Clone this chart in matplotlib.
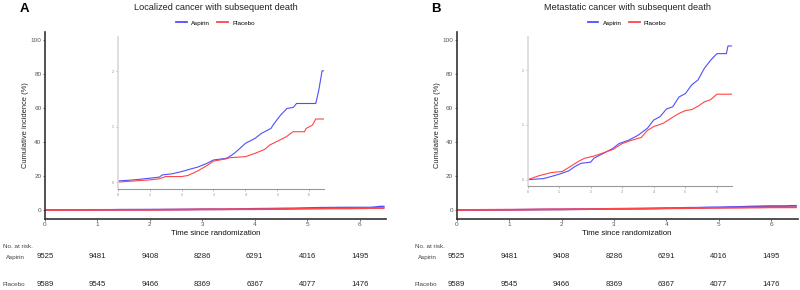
import matplotlib
matplotlib.use('Agg')
import matplotlib.pyplot as plt
from matplotlib.transforms import blended_transform_factory

plt.rcParams['font.family'] = ['Liberation Sans', 'DejaVu Sans']

# Dados (incidência cumulativa em %)
a_asp_t = [0, 0.5, 1.0, 1.3, 1.4, 1.7, 2.0, 2.3, 2.5, 2.8, 3.0, 3.4, 3.5, 3.65, 3.77, 4.0,
           4.3, 4.5, 4.8, 4.9, 5.1, 5.3, 5.5, 5.6, 6.2, 6.25, 6.3, 6.4, 6.46]
a_asp_y = [0.02, 0.04, 0.07, 0.09, 0.13, 0.15, 0.19, 0.24, 0.27, 0.34, 0.40, 0.43, 0.46, 0.52,
           0.58, 0.70, 0.79, 0.88, 0.97, 1.06, 1.21, 1.33, 1.35, 1.42, 1.42, 1.54, 1.67, 2.01, 2.01]
a_pla_t = [0, 0.5, 1.0, 1.3, 1.5, 2.0, 2.2, 2.5, 2.8, 3.0, 3.4, 3.5, 4.0, 4.3, 4.6, 4.76,
           4.97, 5.28, 5.49, 5.85, 5.9, 6.1, 6.2, 6.46]
a_pla_y = [0.0, 0.02, 0.04, 0.06, 0.10, 0.10, 0.12, 0.20, 0.30, 0.38, 0.42, 0.44, 0.46, 0.52,
           0.59, 0.67, 0.73, 0.82, 0.91, 0.91, 0.97, 1.03, 1.14, 1.14]

b_asp_t = [0, 0.5, 0.7, 1.0, 1.3, 1.5, 1.7, 2.0, 2.1, 2.4, 2.7, 2.9, 3.2, 3.5, 3.8, 4.0,
           4.2, 4.4, 4.6, 4.8, 5.0, 5.2, 5.4, 5.6, 5.8, 5.9, 6.0, 6.3, 6.35, 6.47]
b_asp_y = [0.0, 0.02, 0.05, 0.10, 0.16, 0.24, 0.30, 0.32, 0.39, 0.48, 0.57, 0.66, 0.72, 0.81,
           0.94, 1.09, 1.15, 1.29, 1.33, 1.51, 1.57, 1.73, 1.82, 2.03, 2.18, 2.24, 2.30, 2.30,
           2.44, 2.44]
b_pla_t = [0, 0.35, 0.75, 1.1, 1.3, 1.6, 1.8, 2.1, 2.4, 2.7, 3.0, 3.3, 3.6, 3.8, 4.0, 4.3,
           4.6, 4.8, 5.0, 5.2, 5.4, 5.6, 5.8, 6.0, 6.47]
b_pla_y = [0.0, 0.07, 0.13, 0.15, 0.22, 0.33, 0.39, 0.43, 0.49, 0.55, 0.66, 0.72, 0.77, 0.90,
           0.97, 1.03, 1.14, 1.21, 1.26, 1.28, 1.34, 1.42, 1.46, 1.56, 1.56]

risk_times = [0, 1, 2, 3, 4, 5, 6]
risk_aspirin = [9525, 9481, 9408, 8286, 6291, 4016, 1495]
risk_placebo = [9589, 9545, 9466, 8369, 6367, 4077, 1476]

titles = ['Localized cancer with subsequent death', 'Metastatic cancer with subsequent death']
letters = ['A', 'B']

blue = '#4F4FFF'
red = '#FF4545'

fig = plt.figure(figsize=(8, 2.9), dpi=100)

main_pos = [[0.05625, 0.2448, 0.426, 0.645], [0.5709, 0.2448, 0.426, 0.645]]
inset_pos = [[0.1471, 0.3472, 0.2583, 0.525], [0.6594, 0.3586, 0.2553, 0.515]]
inset_ylim = [(-0.13, 2.62), (-0.115, 2.61)]
data = [(a_asp_t, a_asp_y, a_pla_t, a_pla_y), (b_asp_t, b_asp_y, b_pla_t, b_pla_y)]

for i in range(2):
    at, ay, pt, py = data[i]
    ax = fig.add_axes(main_pos[i])
    ax.plot(at, ay, color=blue, lw=1.3, label='Aspirin')
    ax.plot(pt, py, color=red, lw=1.3, label='Placebo')
    ax.set_xlim(0, 6.5)
    ax.set_ylim(-5.3, 104.7)
    ax.set_xticks(risk_times)
    ax.set_yticks([0, 20, 40, 60, 80, 100])
    for s in ['top', 'right']:
        ax.spines[s].set_visible(False)
    for s in ['left', 'bottom']:
        ax.spines[s].set_color('#333333')
        ax.spines[s].set_linewidth(1.2)
    ax.tick_params(labelsize=4.6, colors='#555555', length=1.5, width=0.6, pad=1)
    ax.set_xlabel('Time since randomization', fontsize=5.7, color='#111111')
    ax.xaxis.set_label_coords(0.5, -0.058)
    ax.set_ylabel('Cumulative incidence (%)', fontsize=5.4, color='#222222')
    ax.yaxis.set_label_coords(-0.046, 0.5)
    ax.legend(loc='center', bbox_to_anchor=(0.5, 1.048), ncol=2, frameon=False, fontsize=4.5,
              handlelength=1.7, columnspacing=1.2, handletextpad=0.7)

    # título e letra do painel
    cx = main_pos[i][0] + main_pos[i][2] / 2
    fig.text(cx, 1 - 7.5 / 290, titles[i], ha='center', va='center', fontsize=6.6, color='#222222')
    fig.text(main_pos[i][0] - 0.032, 1 - 9 / 290, letters[i],
             ha='left', va='center', fontsize=9.5, fontweight='bold')

    # inset com zoom
    ins = fig.add_axes(inset_pos[i])
    ins.plot(at, ay, color=blue, lw=0.8)
    ins.plot(pt, py, color=red, lw=0.8)
    ins.set_xlim(0, 6.47)
    ins.set_ylim(*inset_ylim[i])
    ins.set_xticks(risk_times)
    ins.set_yticks([0, 1, 2])
    ins.patch.set_alpha(0)
    for s in ['top', 'right']:
        ins.spines[s].set_visible(False)
    ins.spines['left'].set_color('#d9d9d9')
    ins.spines['left'].set_linewidth(1.2)
    ins.spines['bottom'].set_color('#999999')
    ins.spines['bottom'].set_linewidth(0.8)
    ins.tick_params(labelsize=2.5, colors='#888888', length=1.2, width=0.4, pad=1.5)

    # tabela de número em risco
    tr = blended_transform_factory(ax.transData, fig.transFigure)
    left_px = main_pos[i][0] * 800
    fig.text((left_px - 42) / 800, 1 - 246 / 290, 'No. at risk.', fontsize=4.5, color='#444444',
             ha='left', va='center')
    fig.text((left_px - 20) / 800, 1 - 257 / 290, 'Aspirin', fontsize=4.5, color='#444444',
             ha='right', va='center')
    fig.text((left_px - 20) / 800, 1 - 285 / 290, 'Placebo', fontsize=4.5, color='#444444',
             ha='right', va='center')
    for t, na, npl in zip(risk_times, risk_aspirin, risk_placebo):
        ax.text(t, 1 - 257 / 290, str(na), transform=tr, ha='center', va='center',
                fontsize=5.6, color='#222222')
        ax.text(t, 1 - 285 / 290, str(npl), transform=tr, ha='center', va='center',
                fontsize=5.6, color='#222222')

fig.savefig('out.png', dpi=100)
